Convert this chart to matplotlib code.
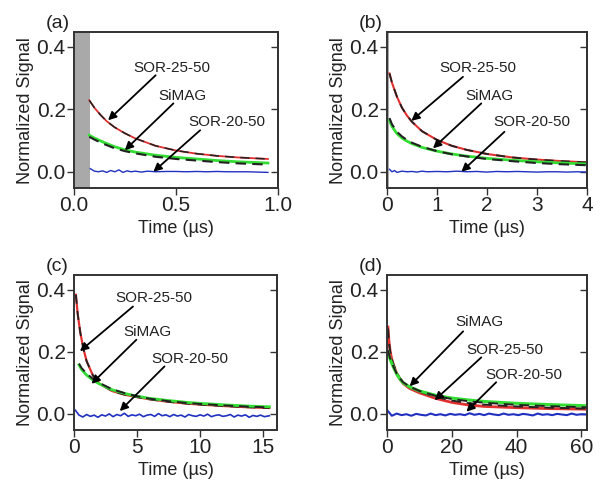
import matplotlib.pyplot as plt
import numpy as np

plt.rcParams['font.family'] = ['Liberation Sans', 'DejaVu Sans']

TXT = '#222222'
EDGE = '#333333'

# ---- panel (a): 0 - 1 us ----
ta_r = [0.075, 0.10, 0.13, 0.16, 0.20, 0.25, 0.30, 0.40, 0.50, 0.60, 0.70, 0.80, 0.95]
ya_r = [0.229, 0.205, 0.182, 0.162, 0.142, 0.123, 0.107, 0.083, 0.068, 0.058, 0.051, 0.046, 0.041]
ta_g = [0.075, 0.10, 0.15, 0.20, 0.25, 0.30, 0.40, 0.50, 0.60, 0.70, 0.80, 0.95]
ya_g = [0.117, 0.108, 0.093, 0.080, 0.070, 0.063, 0.053, 0.046, 0.041, 0.036, 0.032, 0.028]
ya_gf = [0.112, 0.103, 0.088, 0.075, 0.066, 0.059, 0.048, 0.041, 0.036, 0.031, 0.027, 0.023]
ta_b = [0.08, 0.10, 0.12, 0.14, 0.16, 0.18, 0.20, 0.22, 0.24, 0.26, 0.28, 0.30, 0.33, 0.36,
        0.40, 0.45, 0.50, 0.55, 0.60, 0.65, 0.70, 0.75, 0.80, 0.85, 0.90, 0.95]
ya_b = [0.010, 0.002, 0.000, 0.003, -0.002, 0.004, 0.000, 0.006, -0.002, 0.003, 0.000, 0.002,
        -0.001, 0.002, 0.000, 0.001, 0.001, 0.000, 0.001, 0.000, 0.001, 0.000, 0.000, 0.000,
        -0.001, -0.002]

# ---- panel (b): 0 - 4 us ----
tb_r = [0.05, 0.10, 0.20, 0.30, 0.40, 0.50, 0.70, 1.0, 1.3, 1.6, 2.0, 2.5, 3.0, 3.5, 4.0]
yb_r = [0.315, 0.285, 0.240, 0.205, 0.180, 0.160, 0.130, 0.102, 0.083, 0.070, 0.057, 0.046, 0.039, 0.034, 0.030]
tb_g = [0.05, 0.10, 0.20, 0.30, 0.40, 0.50, 0.70, 1.0, 1.3, 1.6, 2.0, 2.5, 3.0, 3.5, 4.0]
yb_g = [0.165, 0.145, 0.122, 0.108, 0.098, 0.090, 0.078, 0.066, 0.057, 0.050, 0.043, 0.037, 0.032, 0.028, 0.025]
yb_gf = [0.172, 0.152, 0.128, 0.113, 0.102, 0.093, 0.080, 0.066, 0.056, 0.049, 0.041, 0.034, 0.028, 0.024, 0.021]
tb_b = [0.05, 0.10, 0.15, 0.20, 0.30, 0.40, 0.50, 0.60, 0.70, 0.80, 1.0, 1.2, 1.4, 1.6, 1.8,
        2.0, 2.2, 2.4, 2.6, 2.8, 3.0, 3.2, 3.4, 3.6, 3.8, 4.0]
yb_b = [0.008, 0.000, 0.004, -0.002, 0.002, 0.000, 0.001, -0.001, 0.002, 0.000, 0.001, 0.000,
        0.002, 0.000, 0.001, -0.001, 0.001, 0.000, 0.001, 0.000, -0.001, 0.000, 0.000, -0.001,
        0.000, -0.001]

# ---- panel (c): 0 - 16 us ----
tc_r = [0.15, 0.30, 0.50, 0.75, 1.0, 1.5, 2.0, 3.0, 4.0, 5.0, 6.0, 7.5, 9.0, 10.0, 12.0, 14.0, 15.5]
yc_r = [0.384, 0.320, 0.262, 0.210, 0.170, 0.124, 0.098, 0.074, 0.062, 0.054, 0.047, 0.039, 0.033, 0.030, 0.025, 0.021, 0.019]
tc_g = [0.40, 0.60, 1.0, 1.5, 2.0, 3.0, 4.0, 5.0, 6.0, 7.5, 9.0, 10.0, 12.0, 14.0, 15.5]
yc_g = [0.158, 0.143, 0.125, 0.109, 0.097, 0.078, 0.066, 0.057, 0.050, 0.043, 0.037, 0.034, 0.029, 0.025, 0.023]
yc_gf = [0.162, 0.148, 0.130, 0.113, 0.100, 0.080, 0.067, 0.057, 0.049, 0.041, 0.035, 0.032, 0.027, 0.023, 0.021]
tc_b = [0.1, 0.4, 0.7, 1.0, 1.3, 1.6, 1.9, 2.2, 2.5, 2.8, 3.1, 3.4, 3.7, 4.0, 4.3, 4.6, 4.9,
        5.2, 5.5, 5.8, 6.1, 6.4, 6.7, 7.0, 7.3, 7.6, 7.9, 8.2, 8.5, 8.8, 9.1, 9.4, 9.7, 10.0,
        10.3, 10.6, 10.9, 11.2, 11.5, 11.8, 12.1, 12.4, 12.7, 13.0, 13.3, 13.6, 13.9, 14.2,
        14.5, 14.8, 15.1, 15.5]
yc_b = [0.012, -0.004, -0.010, -0.002, -0.008, -0.004, -0.011, -0.003, -0.007, 0.000, -0.009,
        -0.002, -0.006, 0.002, -0.008, -0.003, -0.006, -0.001, -0.009, -0.004, -0.002, -0.008,
        0.001, -0.006, -0.003, -0.009, -0.002, -0.007, -0.004, -0.010, -0.002, -0.006, -0.008,
        -0.003, -0.007, -0.001, -0.009, -0.005, -0.003, -0.008, -0.006, -0.002, -0.010, -0.004,
        -0.007, -0.003, -0.011, -0.005, -0.008, -0.004, -0.009, -0.006]

# ---- panel (d): 0 - 62 us ----
td_r = [0.3, 0.6, 1.0, 1.5, 2.0, 3.0, 4.0, 5.0, 7.0, 10.0, 15.0, 20.0, 25.0, 30.0, 40.0, 50.0, 62.0]
yd_r = [0.280, 0.235, 0.200, 0.175, 0.158, 0.130, 0.112, 0.098, 0.082, 0.068, 0.050, 0.037, 0.029, 0.024, 0.020, 0.017, 0.015]
yd_rf = [0.275, 0.232, 0.200, 0.176, 0.160, 0.133, 0.115, 0.102, 0.086, 0.072, 0.055, 0.043, 0.035, 0.030, 0.024, 0.020, 0.017]
td_g = [0.3, 0.6, 1.0, 1.5, 2.0, 3.0, 4.0, 5.0, 7.0, 10.0, 15.0, 20.0, 25.0, 30.0, 40.0, 50.0, 62.0]
yd_g = [0.200, 0.188, 0.175, 0.162, 0.150, 0.128, 0.112, 0.100, 0.087, 0.074, 0.060, 0.051, 0.045, 0.040, 0.034, 0.030, 0.026]
yd_gf = [0.205, 0.192, 0.178, 0.164, 0.152, 0.130, 0.114, 0.102, 0.088, 0.074, 0.058, 0.048, 0.041, 0.036, 0.029, 0.025, 0.021]
td_b = [0.2, 1.5, 3.0, 4.5, 6.0, 7.5, 9.0, 10.5, 12.0, 13.5, 15.0, 16.5, 18.0, 19.5, 21.0, 22.5,
        24.0, 25.5, 27.0, 28.5, 30.0, 31.5, 33.0, 34.5, 36.0, 37.5, 39.0, 40.5, 42.0, 43.5, 45.0,
        46.5, 48.0, 49.5, 51.0, 52.5, 54.0, 55.5, 57.0, 58.5, 60.0, 62.0]
yd_b = [0.010, -0.006, 0.001, -0.004, -0.001, -0.006, 0.000, -0.003, -0.005, 0.001, -0.004,
        -0.001, -0.005, 0.000, -0.003, -0.001, -0.004, 0.002, -0.003, 0.000, -0.004, 0.001,
        -0.002, -0.004, 0.001, -0.003, -0.001, -0.004, 0.000, -0.002, -0.005, 0.001, -0.003,
        -0.001, -0.004, 0.000, -0.002, -0.004, 0.001, -0.003, -0.001, -0.002]

# annotations: (label, text xy, arrow tail, arrow head)
ann_a = [('SOR-25-50', (0.479, 0.333), (0.40, 0.309), (0.167, 0.165)),
         ('SiMAG', (0.531, 0.243), (0.487, 0.219), (0.249, 0.069)),
         ('SOR-20-50', (0.749, 0.158), (0.618, 0.133), (0.389, 0.0))]
ann_b = [('SOR-25-50', (1.82, 0.333), (1.52, 0.304), (0.487, 0.163)),
         ('SiMAG', (2.05, 0.243), (1.887, 0.219), (0.92, 0.075)),
         ('SOR-20-50', (2.89, 0.158), (2.35, 0.128), (1.49, 0.0))]
ann_c = [('SOR-25-50', (6.3, 0.375), (4.68, 0.346), (0.47, 0.202)),
         ('SiMAG', (5.8, 0.265), (4.95, 0.239), (1.39, 0.097)),
         ('SOR-20-50', (9.2, 0.178), (7.18, 0.153), (3.63, 0.009))]
ann_d = [('SiMAG', (28.6, 0.295), (23.5, 0.266), (7.0, 0.089)),
         ('SOR-25-50', (36.3, 0.205), (29.1, 0.182), (14.7, 0.044)),
         ('SOR-20-50', (42.2, 0.125), (33.7, 0.102), (24.5, 0.007))]

fig = plt.figure(figsize=(6.04, 4.90), dpi=100)
ax_a = fig.add_axes([0.1225, 0.6163, 0.338, 0.318])
ax_b = fig.add_axes([0.6407, 0.6163, 0.331, 0.318])
ax_c = fig.add_axes([0.1225, 0.1224, 0.336, 0.316])
ax_d = fig.add_axes([0.6407, 0.1224, 0.331, 0.316])


def style(ax, xmax, xticks, xlabels, letter):
    ax.set_xlim(0, xmax)
    ax.set_ylim(-0.052, 0.447)
    ax.set_xticks(xticks)
    ax.set_xticklabels(xlabels)
    ax.set_yticks([0.0, 0.2, 0.4])
    ax.set_yticklabels(['0.0', '0.2', '0.4'])
    for s in ax.spines.values():
        s.set_color(EDGE)
        s.set_linewidth(1.4)
    ax.tick_params(direction='out', length=5, width=1, colors=EDGE,
                   labelcolor=TXT, labelsize=15, pad=1)
    sec = ax.secondary_yaxis('right')
    sec.set_yticks([0.0, 0.2, 0.4])
    sec.tick_params(direction='in', length=5, width=1, colors=EDGE, labelright=False)
    sec.spines['right'].set_color(EDGE)
    sec.spines['right'].set_linewidth(1.4)
    ax.set_xlabel('Time (µs)', fontsize=13, color=TXT, labelpad=3)
    ax.set_ylabel('Normalized Signal', fontsize=13, color=TXT, labelpad=2)
    ax.text(-0.14, 1.0, letter, transform=ax.transAxes, fontsize=14, color=TXT,
            ha='left', va='bottom')


def notes(ax, items):
    for label, txy, tail, head in items:
        ax.text(txy[0], txy[1], label, fontsize=11, color=TXT, ha='center', va='center')
        ax.annotate('', xy=head, xytext=tail,
                    arrowprops=dict(arrowstyle='-|>', color='black', lw=1.3,
                                    mutation_scale=12, shrinkA=0, shrinkB=0))


# (a)
ax_a.axvspan(0, 0.077, color='#a9a9a9', lw=0)
ax_a.plot(ta_r, ya_r, color='#e03030', lw=1.3)
ax_a.plot(ta_r, ya_r, color='#222222', lw=1.1, ls=(0, (6, 4)))
ax_a.plot(ta_g, ya_g, color='#33dd33', lw=2.0)
ax_a.plot(ta_g, ya_gf, color='#222222', lw=1.5, ls=(0, (5, 3)))
ax_a.plot(ta_b, ya_b, color='#2030c0', lw=1.0)
style(ax_a, 1.0, [0.0, 0.5, 1.0], ['0.0', '0.5', '1.0'], '(a)')
notes(ax_a, ann_a)

# (b)
ax_b.axvspan(0, 0.05, color='#a9a9a9', lw=0)
ax_b.plot(tb_r, yb_r, color='#e03030', lw=1.5)
ax_b.plot(tb_r, yb_r, color='#222222', lw=1.3, ls=(0, (5, 4)))
ax_b.plot(tb_g, yb_g, color='#33dd33', lw=2.0)
ax_b.plot(tb_g, yb_gf, color='#222222', lw=1.5, ls=(0, (5, 3)))
ax_b.plot(tb_b, yb_b, color='#2030c0', lw=1.0)
style(ax_b, 4.0, [0, 1, 2, 3, 4], ['0', '1', '2', '3', '4'], '(b)')
notes(ax_b, ann_b)

# (c)
ax_c.plot(tc_r, yc_r, color='#e03030', lw=1.6)
ax_c.plot(tc_r, yc_r, color='#222222', lw=1.3, ls=(0, (5, 4)))
ax_c.plot(tc_g, yc_g, color='#33dd33', lw=2.0)
ax_c.plot(tc_g, yc_gf, color='#222222', lw=1.4, ls=(0, (5, 3)))
ax_c.plot(tc_b, yc_b, color='#2030c0', lw=1.2)
style(ax_c, 16.1, [0, 5, 10, 15], ['0', '5', '10', '15'], '(c)')
notes(ax_c, ann_c)

# (d)
ax_d.plot(td_r, yd_r, color='#e03030', lw=2.0)
ax_d.plot(td_r, yd_rf, color='#222222', lw=1.4, ls=(0, (5, 3)))
ax_d.plot(td_g, yd_g, color='#33dd33', lw=2.2)
ax_d.plot(td_g, yd_gf, color='#222222', lw=1.4, ls=(0, (5, 3)))
ax_d.plot(td_b, yd_b, color='#2030c0', lw=1.5)
style(ax_d, 61.7, [0, 20, 40, 60], ['0', '20', '40', '60'], '(d)')
notes(ax_d, ann_d)

fig.savefig('out.png', dpi=100)
